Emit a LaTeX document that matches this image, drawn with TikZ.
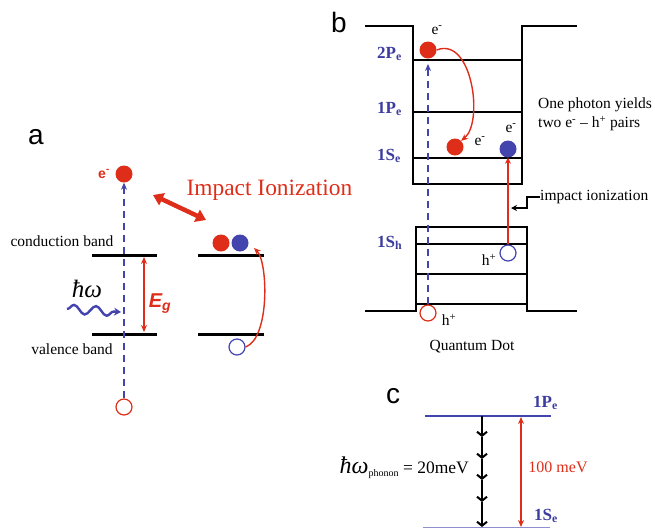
\documentclass[tikz,border=0pt]{standalone}
\usepackage{fontspec}
\setmainfont{Liberation Serif}
\setsansfont{Liberation Sans}
\usetikzlibrary{arrows.meta,decorations.pathmorphing}
\definecolor{myred}{RGB}{222,45,25}
\definecolor{myblue}{RGB}{68,68,175}
\definecolor{lblue}{RGB}{60,60,160}
\tikzset{
  elec/.style={circle,fill=myred,minimum size=17pt,inner sep=0pt},
  elecb/.style={circle,fill=myblue,minimum size=17pt,inner sep=0pt},
  holer/.style={circle,draw=myred,line width=1.2pt,minimum size=16pt,inner sep=0pt},
  holeb/.style={circle,draw=myblue,line width=1.2pt,minimum size=16pt,inner sep=0pt},
  band/.style={line width=3pt},
  wall/.style={line width=1.9pt},
  exc/.style={myblue,line width=1.4pt,dash pattern=on 7pt off 5pt,-{Stealth[length=7pt,width=6pt]}},
  redarr/.style={myred,line width=1.4pt,-{Stealth[length=7pt,width=6pt]}},
  txt/.style={inner sep=0pt,font=\fontsize{15.5}{19}\selectfont},
  lvl/.style={inner sep=0pt,anchor=base west,text=lblue,font=\fontsize{17}{18}\selectfont\bfseries},
  panel/.style={inner sep=0pt,font=\sffamily\fontsize{28}{30}\selectfont},
}
\begin{document}
\begin{tikzpicture}[x=1pt,y=-1pt]
\useasboundingbox (0,0) rectangle (655,528);
% ---------- panel a ----------
\node[panel] (la) at (36,137) {a};
\node[elec] (ea) at (124,174) {};
\node[holer] (ha) at (124,407) {};
\node[inner sep=0pt,text=myred,font=\sffamily\bfseries\fontsize{14}{15}\selectfont] (eal) at (104,174) {e\textsuperscript{-}};
\coordinate (cb1) at (92,255); \coordinate (cb2) at (157,255);
\coordinate (vb1) at (92,334); \coordinate (vb2) at (157,334);
\coordinate (cb3) at (198,255); \coordinate (cb4) at (264,255);
\coordinate (vb3) at (198,334); \coordinate (vb4) at (264,334);
\draw[band] (cb1) -- (cb2); \draw[band] (vb1) -- (vb2);
\draw[band] (cb3) -- (cb4); \draw[band] (vb3) -- (vb4);
\draw[exc] (ha.north) -- (ea.south);
\coordinate (egt) at (144,257); \coordinate (egb) at (144,332);
\draw[myred,line width=1.3pt,{Stealth[length=7pt,width=6pt]}-{Stealth[length=7pt,width=6pt]}] (egt) -- (egb);
\node[inner sep=0pt,text=myred,font=\sffamily\bfseries\itshape\fontsize{20}{22}\selectfont] (eg) at (160,304) {E\textsubscript{g}};
\node[txt] (cbt) at (62,241) {conduction band};
\node[txt] (vbt) at (72,349) {valence band};
\node[inner sep=0pt,font=\itshape\fontsize{25}{27}\selectfont] (hw) at (87,289) {ħω};
\coordinate (w1) at (67,309); \coordinate (w2) at (121,312);
\draw[myblue,line width=2.4pt,decorate,decoration={snake,segment length=22pt,amplitude=4.5pt,post length=6pt},-{Stealth[length=7pt,width=8pt]}] (w1) -- (w2);
\node[inner sep=0pt,anchor=base,text=myred,font=\fontsize{23.4}{25}\selectfont] (ii) at (269.5,195) {Impact Ionization};
\coordinate (ia1) at (153,195); \coordinate (ia2) at (206,220);
\draw[myred,line width=4.5pt,{Triangle[length=10pt,width=13pt]}-{Triangle[length=10pt,width=13pt]}] (ia1) -- (ia2);
\node[elec] (e2a) at (221,243) {};
\node[elecb] (e3a) at (240,243) {};
\node[holeb] (hba) at (237,347) {};
\draw[redarr] (hba.east) .. controls (270,338) and (268,262) .. (254,248);
% ---------- panel b ----------
\node[panel] (lb) at (339,22) {b};
\draw[wall] (365,26) -- (413,26) -- (413,184) -- (522,184) -- (522,26) -- (577,26);
\draw[wall] (413,60) -- (522,60);
\draw[wall] (413,112) -- (522,112);
\draw[wall] (413,158) -- (522,158);
\node[lvl] (p2) at (377,58) {2P\textsubscript{e}};
\node[lvl] (p1) at (377,113) {1P\textsubscript{e}};
\node[lvl] (s1) at (377,160) {1S\textsubscript{e}};
\node[lvl] (sh) at (377,247) {1S\textsubscript{h}};
\draw[wall] (365,311) -- (416,311) -- (416,227) -- (527,227) -- (527,311) -- (577,311);
\draw[wall] (416,244) -- (527,244);
\draw[wall] (416,274) -- (527,274);
\draw[wall] (416,304) -- (527,304);
\node[elec] (eb1) at (428,50) {};
\node[elec] (eb2) at (455,147) {};
\node[elecb] (eb3) at (508,149) {};
\node[holeb] (hb2) at (508,253) {};
\node[holer] (hb1) at (428,313) {};
\node[txt] (eb1l) at (437,30) {e\textsuperscript{-}};
\node[txt] (eb2l) at (480,141) {e\textsuperscript{-}};
\node[txt] (eb3l) at (511,128) {e\textsuperscript{-}};
\node[txt] (hb2l) at (489,260) {h\textsuperscript{+}};
\node[txt] (hb1l) at (449,320) {h\textsuperscript{+}};
\coordinate (exb) at (428,64);
\draw[exc] (hb1.north) -- (exb);
\draw[redarr] (eb1.east) .. controls (472,36) and (484,122) .. (eb2.north east);
\draw[myred,line width=1.4pt,-{Stealth[length=6pt,width=6pt]}] (hb2.north) -- (eb3.south);
\node[txt,anchor=west,align=left] (oph) at (538,114) {One photon yields\\two e\textsuperscript{-} -- h\textsuperscript{+} pairs};
\node[txt,anchor=west] (iil) at (540,197) {impact ionization};
\draw[line width=1.8pt,-{Stealth[length=6pt,width=6pt]}] (iil.west) -- ++(-13,0) -- ++(0,11) -- ++(-16,0);
\node[txt] (qd) at (472,347) {Quantum Dot};
% ---------- panel c ----------
\node[panel] (lc) at (393,396) {c};
\coordinate (pc1) at (425,416); \coordinate (pc2) at (551,416);
\coordinate (sc1) at (423,527); \coordinate (sc2) at (550,527);
\draw[myblue,line width=1.4pt] (pc1) -- (pc2);
\draw[myblue!60,line width=1pt] (sc1) -- (sc2);
\node[lvl] (cp) at (533,407) {1P\textsubscript{e}};
\node[lvl] (cs) at (534,520) {1S\textsubscript{e}};
\coordinate (k0) at (482,416); \coordinate (k1) at (482,437); \coordinate (k2) at (482,459);
\coordinate (k3) at (482,480); \coordinate (k4) at (482,502); \coordinate (k5) at (482,527);
\foreach \a/\b in {k0/k1,k1/k2,k2/k3,k3/k4,k4/k5}
  \draw[line width=2pt,-{Straight Barb[length=4pt,width=10pt]}] (\a) -- (\b);
\coordinate (rt) at (521,417); \coordinate (rb) at (521,527);
\draw[myred,line width=1.3pt,{Stealth[length=7pt,width=6pt]}-{Stealth[length=7pt,width=6pt]}] (rt) -- (rb);
\node[inner sep=0pt,text=myred,font=\fontsize{16}{18}\selectfont] (mev) at (558,467) {100 meV};
\node[inner sep=0pt,anchor=base east] (ph) at (469,473) {{\itshape\fontsize{24}{26}\selectfont ħω}\raisebox{-3pt}{\fontsize{10}{11}\selectfont phonon}\fontsize{17.5}{19}\selectfont\ = 20meV};
\end{tikzpicture}
\end{document}
